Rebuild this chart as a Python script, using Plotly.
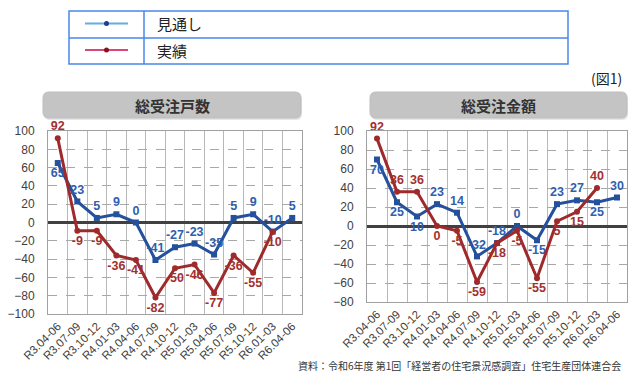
import plotly.graph_objects as go

categories = ["R3.04-06", "R3.07-09", "R3.10-12", "R4.01-03", "R4.04-06", "R4.07-09",
              "R4.10-12", "R5.01-03", "R5.04-06", "R5.07-09", "R5.10-12", "R6.01-03", "R6.04-06"]

# 総受注戸数
units_forecast = [65, 23, 5, 9, 0, -41, -27, -23, -35, 5, 9, -10, 5]
units_actual = [92, -9, -9, -36, -41, -82, -50, -46, -77, -36, -55, -10]
# 総受注金額
amount_forecast = [70, 25, 10, 23, 14, -32, -18, 0, -15, 23, 27, 25, 30]
amount_actual = [92, 36, 36, 0, -5, -59, -18, -5, -55, 5, 15, 40]

units_fc_pos = ["bottom center"] + ["top center"] * 12
units_ac_pos = ["top center"] + ["bottom center"] * 11
amount_fc_pos = ["bottom center", "bottom center", "bottom center", "top center", "top center",
                 "top center", "top center", "top center", "bottom center", "top center",
                 "top center", "bottom center", "top center"]
amount_ac_pos = ["top center", "top center", "top center", "bottom center", "bottom center",
                 "bottom center", "bottom center", "bottom center", "bottom center",
                 "bottom center", "bottom center", "top center"]

BLUE = "#24509c"
RED = "#9e2a2b"
BLUE_T = "#2f5fae"
RED_T = "#a3302f"
FONT = "Noto Sans CJK JP"
OFF = 8  # page body margin
W, H = 640 - 2 * OFF, 383 - 2 * OFF

fig = go.Figure()


def add_series(xa, ya, vals, pos, color, tcolor, symbol):
    fig.add_trace(go.Scatter(
        x=categories[:len(vals)], y=vals, xaxis=xa, yaxis=ya,
        mode="lines+markers+text", text=[str(v) for v in vals], textposition=pos,
        line=dict(color=color, width=3), marker=dict(color=color, size=6, symbol=symbol),
        textfont=dict(color=tcolor, size=12.5, family="Arial", weight="bold"),
        showlegend=False, cliponaxis=False))


add_series("x", "y", units_forecast, units_fc_pos, BLUE, BLUE_T, "square")
add_series("x", "y", units_actual, units_ac_pos, RED, RED_T, "circle")
add_series("x2", "y2", amount_forecast, amount_fc_pos, BLUE, BLUE_T, "square")
add_series("x2", "y2", amount_actual, amount_ac_pos, RED, RED_T, "circle")


def px(x):
    return (x - OFF) / W


def py(y):
    return 1 - (y - OFF) / H


xcommon = dict(type="category", tickson="boundaries", showgrid=True, gridcolor="#b8b8b8",
               gridwidth=1, showline=True, linecolor="#a0a0a0", mirror=True, ticks="",
               tickangle=-45, tickfont=dict(size=11.5, color="#404040", family="Arial"),
               range=[-0.5, 12.5], fixedrange=True, automargin=False)
ycommon = dict(showgrid=True, gridcolor="#a8a8a8", griddash="dash", gridwidth=1,
               zeroline=True, zerolinecolor="#404040", zerolinewidth=2.5,
               showline=True, linecolor="#a0a0a0", mirror=True, ticks="", dtick=20,
               tickfont=dict(size=12, color="#404040", family="Arial"), ticklabelstandoff=10,
               automargin=False, fixedrange=True)

fig.update_layout(
    template="none",
    width=W, height=H, margin=dict(l=0, r=0, t=0, b=0, pad=0),
    paper_bgcolor="white", plot_bgcolor="white",
    font=dict(family=FONT),
    xaxis=dict(domain=[px(48), px(302)], anchor="y", **xcommon),
    yaxis=dict(domain=[py(314), py(131)], anchor="x", range=[-100, 100], **ycommon),
    xaxis2=dict(domain=[px(367), px(627)], anchor="y2", **xcommon),
    yaxis2=dict(domain=[py(302), py(131)], anchor="x2", range=[-80, 100], **ycommon),
)

shapes = []
annotations = []


def rrect(x0, y0, x1, y1, r):
    X0, X1 = px(x0), px(x1)
    Y0, Y1 = py(y0), py(y1)
    rx, ry = r / W, r / H
    return (f"M {X0+rx},{Y0} L {X1-rx},{Y0} Q {X1},{Y0} {X1},{Y0-ry} "
            f"L {X1},{Y1+ry} Q {X1},{Y1} {X1-rx},{Y1} L {X0+rx},{Y1} "
            f"Q {X0},{Y1} {X0},{Y1+ry} L {X0},{Y0-ry} Q {X0},{Y0} {X0+rx},{Y0} Z")


def note(x, y, text, size, color, xanchor="center", yanchor="middle"):
    annotations.append(dict(x=px(x), y=py(y), xref="paper", yref="paper", text=text,
                            showarrow=False, xanchor=xanchor, yanchor=yanchor,
                            font=dict(size=size, color=color, family=FONT)))


# title boxes
for (x0, x1, title) in [(43, 301, "総受注戸数"), (370, 627, "総受注金額")]:
    shapes.append(dict(type="path", xref="paper", yref="paper", path=rrect(x0 + 1, 94, x1 + 1, 120, 6),
                       fillcolor="#e6e6e6", line=dict(width=0)))
    shapes.append(dict(type="path", xref="paper", yref="paper", path=rrect(x0, 92, x1, 118, 6),
                       fillcolor="#c4c4c4", line=dict(color="#bdbdbd", width=1)))
    note((x0 + x1) / 2, 105, f"<b>{title}</b>", 15, "#333333")

# legend table
LB = "#4a86e8"
shapes.append(dict(type="rect", xref="paper", yref="paper", x0=px(69), x1=px(568), y0=py(11), y1=py(64),
                   line=dict(color=LB, width=1.5), fillcolor="white"))
shapes.append(dict(type="line", xref="paper", yref="paper", x0=px(69), x1=px(568), y0=py(38), y1=py(38),
                   line=dict(color=LB, width=1.5)))
shapes.append(dict(type="line", xref="paper", yref="paper", x0=px(144), x1=px(144), y0=py(11), y1=py(64),
                   line=dict(color=LB, width=1.5)))
for yy, lc, dc, label in [(23.5, "#62aee0", "#1f3f8a", "見通し"), (50, "#d9467a", "#8e1020", "実績")]:
    shapes.append(dict(type="line", xref="paper", yref="paper", x0=px(85), x1=px(128), y0=py(yy), y1=py(yy),
                       line=dict(color=lc, width=2)))
    shapes.append(dict(type="circle", xref="paper", yref="paper", x0=px(104), x1=px(109),
                       y0=py(yy + 2.5), y1=py(yy - 2.5), fillcolor=dc, line=dict(width=0)))
    note(155, yy, label, 15, "#222222", "left")

note(624, 78, "(図1)", 14, "#222222", "right")
note(623, 375, "資料：令和6年度 第1回「経営者の住宅景況感調査」住宅生産団体連合会", 10, "#333333",
     "right", "bottom")

fig.update_layout(shapes=shapes, annotations=annotations)
fig.write_html("out.html")
